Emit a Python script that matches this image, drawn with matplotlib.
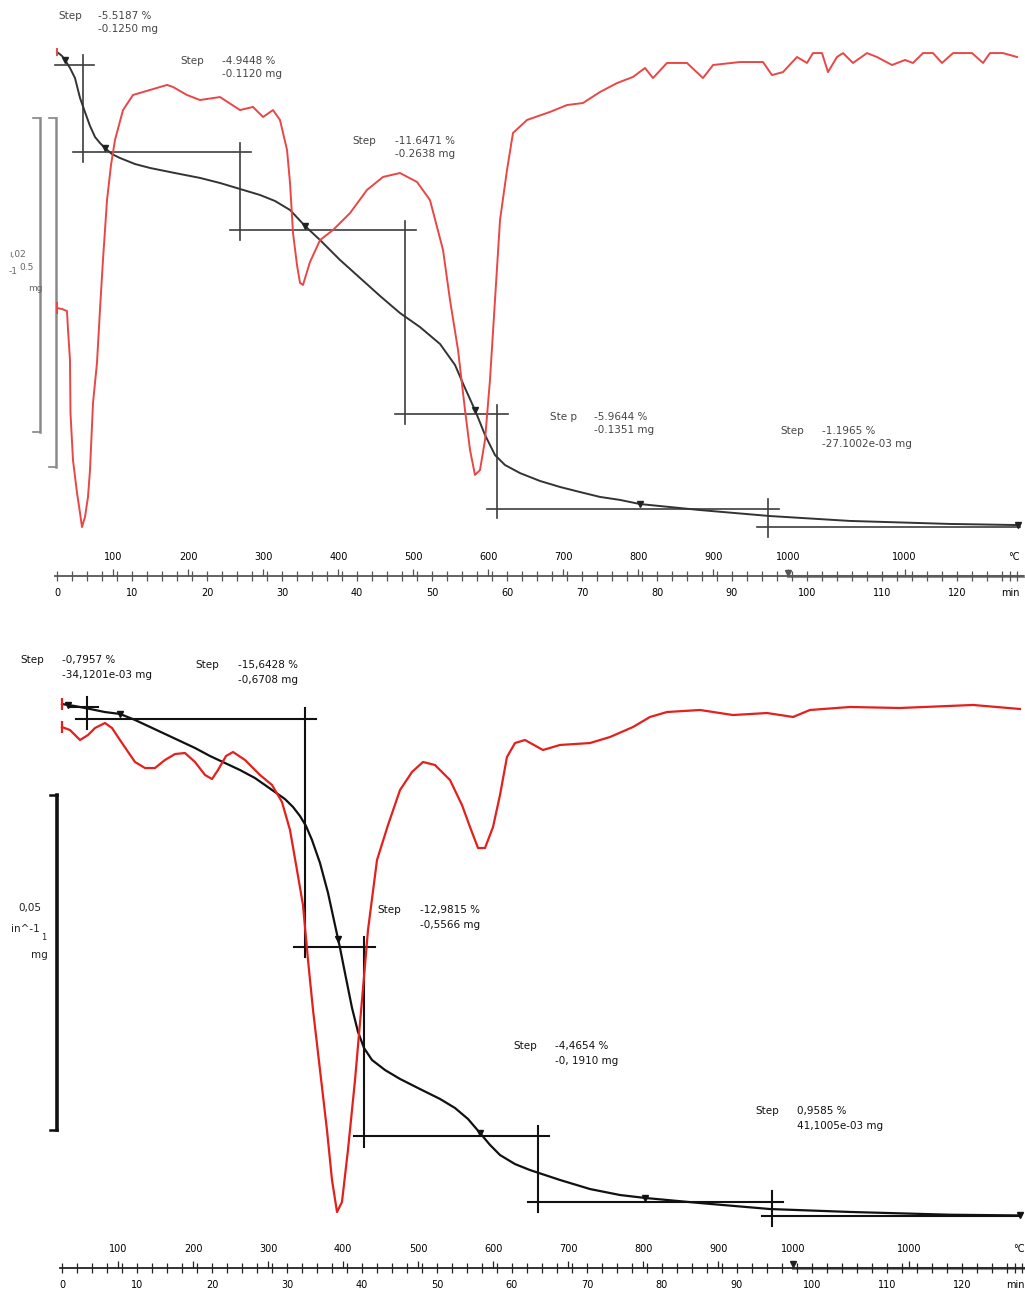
import numpy as np
import matplotlib
matplotlib.use("Agg")
import matplotlib.pyplot as plt

# ---------------- values ----------------
# time in min, TG in %, DTG in %/min

# top sample
top_tg_t = [0, 0.67, 1.07, 1.73, 2.4, 3.07, 3.73, 4.4, 5.07, 5.73, 6.4, 7.33, 8.4, 10.4, 12.4, 15.73,
            19.07, 21.73, 24.4, 27.07, 29.07, 31.07, 33.07, 35.07, 37.73, 40.4, 43.07, 45.73, 48.4,
            51.07, 53.07, 54.4, 55.73, 57.07, 58.4, 59.73, 61.73, 64.4, 67.07, 69.73, 72.4, 75.07,
            77.73, 81.73, 85.73, 95.07, 105.73, 119.07, 128.13]
top_tg = [100.19, 99.94, 99.68, 99.18, 98.54, 97.28, 96.39, 95.51, 94.81, 94.43, 94.11, 93.73, 93.48,
          93.10, 92.85, 92.53, 92.22, 91.90, 91.52, 91.14, 90.76, 90.19, 89.18, 88.29, 87.03, 85.89,
          84.75, 83.67, 82.78, 81.71, 80.38, 78.92, 77.53, 75.95, 74.68, 74.05, 73.54, 73.04, 72.66,
          72.34, 72.03, 71.84, 71.58, 71.39, 71.20, 70.82, 70.51, 70.32, 70.25]
top_dtg_t = [0, 0.67, 1.33, 1.47, 1.73, 1.8, 2.13, 2.67, 3.07, 3.33, 3.73, 4.13, 4.4, 4.8, 5.33, 5.73,
             6.13, 6.67, 7.2, 7.73, 8.8, 10.13, 12.4, 14.67, 15.47, 17.33, 19.07, 21.73, 24.4, 26.13,
             27.47, 28.8, 29.73, 30.67, 31.07, 31.47, 32.0, 32.4, 32.8, 33.73, 35.07, 36.8, 39.07, 41.33,
             43.47, 45.73, 48.0, 49.73, 51.47, 52.4, 53.47, 54.4, 55.07, 55.73, 56.4, 57.07, 57.73, 58.4,
             59.07, 60.0, 60.8, 62.67, 65.73, 68.0, 70.13, 72.4, 74.67, 76.8, 78.4, 79.47, 81.33, 84.0,
             86.13, 87.47, 91.07, 94.13, 95.33, 96.8, 98.67, 100.0, 100.8, 102.0, 102.8, 104.0, 104.8,
             106.13, 108.0, 109.33, 111.33, 113.07, 114.13, 115.47, 116.8, 118.0, 119.47, 122.0, 123.47,
             124.4, 126.13, 128.0]
top_dtg = [-1.599, -1.605, -1.618, -1.739, -1.930, -2.268, -2.567, -2.777, -2.904, -2.994, -2.930,
           -2.803, -2.631, -2.204, -1.949, -1.611, -1.293, -0.911, -0.688, -0.529, -0.338, -0.242,
           -0.210, -0.178, -0.191, -0.242, -0.274, -0.255, -0.338, -0.318, -0.382, -0.338, -0.401,
           -0.592, -0.803, -1.121, -1.325, -1.439, -1.452, -1.306, -1.166, -1.102, -0.994, -0.847,
           -0.764, -0.739, -0.796, -0.911, -1.229, -1.548, -1.866, -2.248, -2.503, -2.662, -2.631,
           -2.439, -2.057, -1.548, -1.038, -0.720, -0.484, -0.401, -0.350, -0.306, -0.293, -0.223,
           -0.166, -0.127, -0.070, -0.134, -0.038, -0.038, -0.134, -0.051, -0.032, -0.032, -0.115,
           -0.096, 0.0, -0.038, 0.025, 0.025, -0.096, 0.0, 0.025, -0.038, 0.025, 0.0, -0.051, -0.019,
           -0.038, 0.025, 0.025, -0.038, 0.025, 0.025, -0.038, 0.025, 0.025, 0.0]
top_start = 99.37
top_steps = [-5.5187, -4.9448, -11.6471, -5.9644, -1.1965]
top_bounds = [3.47, 24.4, 46.4, 58.67, 94.8]
top_marks = [1.07, 6.4, 33.07, 55.73, 77.73, 128.1]
top_pct = ['-5.5187 %', '-4.9448 %', '-11.6471 %', '-5.9644 %', '-1.1965 %']
top_mg = ['-0.1250 mg', '-0.1120 mg', '-0.2638 mg', '-0.1351 mg', '-27.1002e-03 mg']
top_step_word = ['Step', 'Step', 'Step', 'Ste p', 'Step']

# bottom sample
bot_tg_t = [0, 1.73, 3.73, 5.73, 7.73, 9.73, 11.73, 13.73, 15.73, 17.73, 19.73, 21.73, 23.73, 25.73,
            27.07, 28.4, 29.73, 30.8, 31.73, 32.53, 33.33, 34.4, 35.47, 36.4, 37.07, 37.73, 38.67,
            39.47, 40.27, 41.33, 43.07, 45.07, 47.73, 50.4, 52.4, 54.13, 55.73, 57.07, 58.4, 60.4,
            62.4, 66.4, 70.4, 74.4, 77.73, 85.07, 94.4, 105.07, 118.4, 127.73]
bot_tg = [99.93, 99.79, 99.59, 99.38, 99.25, 98.84, 98.36, 97.88, 97.40, 96.92, 96.37, 95.89, 95.41,
          94.86, 94.38, 93.90, 93.42, 92.88, 92.26, 91.58, 90.62, 89.04, 86.99, 84.79, 83.22, 81.51,
          79.11, 77.47, 76.37, 75.55, 74.86, 74.25, 73.56, 72.88, 72.26, 71.51, 70.55, 69.73, 69.04,
          68.42, 68.01, 67.33, 66.71, 66.30, 66.10, 65.75, 65.34, 65.14, 64.95, 64.90]
bot_dtg_t = [0, 1.07, 2.4, 3.47, 4.4, 5.73, 6.67, 7.73, 9.73, 11.07, 12.4, 13.73, 15.07, 16.4, 17.73,
             19.07, 20.0, 20.8, 21.87, 22.8, 24.4, 26.4, 28.0, 29.33, 30.4, 31.33, 32.13, 32.8, 33.47,
             34.4, 35.33, 36.0, 36.67, 37.33, 38.13, 39.07, 40.0, 40.8, 42.0, 43.47, 45.07, 46.67, 48.13,
             49.73, 51.73, 53.33, 54.4, 55.47, 56.4, 57.47, 58.4, 59.33, 60.4, 61.73, 64.13, 66.4, 70.4,
             73.07, 76.13, 78.4, 80.67, 85.07, 89.47, 94.0, 97.47, 99.73, 105.07, 111.73, 121.47, 127.73]
bot_dtg = [-0.254, -0.299, -0.448, -0.373, -0.269, -0.194, -0.269, -0.448, -0.776, -0.866, -0.866,
           -0.746, -0.657, -0.642, -0.776, -0.970, -1.030, -0.896, -0.687, -0.627, -0.746, -0.970,
           -1.119, -1.373, -1.791, -2.388, -2.910, -3.731, -4.478, -5.373, -6.269, -7.015, -7.493,
           -7.343, -6.567, -5.522, -4.328, -3.284, -2.239, -1.716, -1.194, -0.925, -0.776, -0.821,
           -1.045, -1.418, -1.746, -2.060, -2.060, -1.746, -1.269, -0.701, -0.493, -0.448, -0.597,
           -0.522, -0.493, -0.403, -0.254, -0.104, -0.030, 0.0, -0.075, -0.045, -0.104, 0.0, 0.045,
           0.030, 0.075, 0.015]
bot_start = 99.73
bot_steps = [-0.7957, -15.6428, -12.9815, -4.4654, -0.9585]
bot_bounds = [3.33, 32.4, 40.27, 63.47, 94.67]
bot_marks = [0.8, 7.73, 36.8, 55.73, 77.73, 127.7]
bot_pct = ['-0,7957 %', '-15,6428 %', '-12,9815 %', '-4,4654 %', '0,9585 %']
bot_mg = ['-34,1201e-03 mg', '-0,6708 mg', '-0,5566 mg', '-0, 1910 mg', '41,1005e-03 mg']

# time / temperature ruler
heat_start = 25.0   # degC at t = 0
heat_rate = 10.0    # K/min
temp_ticks = [100, 200, 300, 400, 500, 600, 700, 800, 900, 1000]
iso_label_t = [113.0, 127.6]
temp_labels = ['100', '200', '300', '400', '500', '600', '700', '800', '900', '1000', '1000', '°C']
min_ticks = [0, 10, 20, 30, 40, 50, 60, 70, 80, 90, 100, 110, 120, 127.1]
min_labels = ['0', '10', '20', '30', '40', '50', '60', '70', '80', '90', '100', '110', '120', 'min']

W, H = 1025, 1294
PX_MIN = 7.5
RED_TOP = '#ea4646'
RED_BOT = '#e3201c'

fig = plt.figure(figsize=(W / 100, H / 100), dpi=100)


def px_text(x, y, s, **kw):
    fig.text(x / W, 1 - y / H, s, va='top', ha='left', **kw)


def panel(row_top, row_axis, x0, tg_ref, dtg_ref, col, fs):
    ax = fig.add_axes([0, 1 - row_axis / H, 1, (row_axis - row_top) / H])
    ax.set_xlim(-x0 / PX_MIN, (W - x0) / PX_MIN)
    r, v, k = tg_ref
    ax.set_ylim(v - (row_axis - r) / k, v + (r - row_top) / k)
    ax2 = ax.twinx()
    r, v, k = dtg_ref
    ax2.set_ylim(v - (row_axis - r) / k, v + (r - row_top) / k)
    for a in (ax, ax2):
        for s in ('top', 'left', 'right'):
            a.spines[s].set_visible(False)
        a.set_yticks([])
    ax2.spines['bottom'].set_visible(False)

    # time ruler (min) on the bottom spine
    ax.spines['bottom'].set_bounds(-0.3, 128.8)
    ax.spines['bottom'].set_color(col)
    ax.spines['bottom'].set_linewidth(1.3)
    ax.set_xticks(min_ticks, min_labels)
    ax.set_xticks(np.arange(0, 129, 2), minor=True)
    ax.tick_params(axis='x', which='both', direction='inout', length=7, width=0.9,
                   color=col, labelsize=fs, pad=5.5)

    # temperature labels above the ruler
    t_temp = [(T - heat_start) / heat_rate for T in temp_ticks]
    sec = ax.secondary_xaxis(0.0)
    sec.set_alignment('top')
    sec.set_xticks(t_temp + iso_label_t, temp_labels)
    sec.tick_params(direction='out', length=5, width=0.9, color=col, labelsize=fs, pad=5)
    for s in sec.spines.values():
        s.set_visible(False)
    sec.xaxis.get_major_ticks()[-1].tick2line.set_visible(False)

    # isothermal part drawn heavier, mark at 1000 degC
    tr = ax.get_xaxis_transform()
    ax.plot([t_temp[-1], 128.8], [0, 0], transform=tr, color='#8c8c8c', lw=2.2,
            clip_on=False, zorder=1)
    ax.plot([t_temp[-1]], [0.006], transform=tr, marker='v', ms=4, color=col, clip_on=False)
    return ax, ax2


def steps(ax, start, dsteps, bounds, t_first, t_last, over, col, lw):
    levels = start + np.concatenate([[0], np.cumsum(dsteps)])
    left = [t_first] + [b - 1.4 for b in bounds]
    right = [b + 1.5 for b in bounds] + [t_last]
    for lv, a, b in zip(levels, left, right):
        ax.plot([a, b], [lv, lv], color=col, lw=lw, zorder=3)
    for i, b in enumerate(bounds):
        ax.plot([b, b], [levels[i] + over, levels[i + 1] - over], color=col, lw=lw, zorder=3)


def scale_bar(ax, x_px, y0, length, col, lw, cap_px=7):
    tr = ax.get_yaxis_transform()
    x = x_px / W
    c = cap_px / W
    ax.plot([x, x], [y0, y0 - length], transform=tr, color=col, lw=lw, clip_on=False)
    for yy in (y0, y0 - length):
        ax.plot([x - c, x], [yy, yy], transform=tr, color=col, lw=lw * 0.7, clip_on=False)


# ---------------- top thermogram ----------------
ax, ax2 = panel(0, 576, 57, (55, 100.0, 15.8), (57, 0.0, 157.0), '#555555', 7)
ax2.plot(top_dtg_t, top_dtg, color=RED_TOP, lw=1.4, zorder=2)
ax2.plot(top_dtg_t[0], top_dtg[0], marker='|', ms=8, mew=1.4, color=RED_TOP)
ax.plot(top_tg_t, top_tg, color='#333333', lw=1.4, zorder=4)
ax.plot(top_tg_t[0], top_tg[0], marker='|', ms=6, mew=1.4, color=RED_TOP, zorder=5)
steps(ax, top_start, top_steps, top_bounds, -0.3, 128.4, 0.6, '#3d3d3d', 1.2)
ax.plot(top_marks, np.interp(top_marks, top_tg_t, top_tg), 'v', ms=4, color='#222222', zorder=5)

top_sample_mg = 0.1250 / 0.055187
scale_bar(ax2, 40, -0.39, 2.0, '#8a8a8a', 1.8)
scale_bar(ax, 56, 96.0, 0.5 / top_sample_mg * 100, '#8a8a8a', 1.8)
px_text(9, 250, 'ı,02', fontsize=6.5, color='#666666')
px_text(9, 267, '-1', fontsize=6.5, color='#666666')
px_text(19, 263, '0.5', fontsize=6.5, color='#666666')
px_text(28, 284, 'mg', fontsize=6.5, color='#666666')

top_txt = [(58, 98, 11), (180, 222, 56), (352, 395, 136), (550, 594, 412), (780, 822, 426)]
for (xs, xv, yt), w, p, m in zip(top_txt, top_step_word, top_pct, top_mg):
    px_text(xs, yt, w, fontsize=7.5, color='#454545')
    px_text(xv, yt, p + '\n' + m, fontsize=7.5, color='#454545', linespacing=1.35)

# ---------------- bottom thermogram ----------------
bx, bx2 = panel(640, 1268, 62, (703, 100.0, 14.6), (710, 0.0, 67.0), '#222222', 7)
bx2.plot(bot_dtg_t, bot_dtg, color=RED_BOT, lw=1.6, zorder=2)
bx2.plot(bot_dtg_t[0], bot_dtg[0], marker='|', ms=8, mew=1.6, color=RED_BOT)
bx.plot(bot_tg_t, bot_tg, color='#111111', lw=1.6, zorder=4)
bx.plot(bot_tg_t[0], bot_tg[0], marker='|', ms=8, mew=1.6, color=RED_BOT, zorder=5)
steps(bx, bot_start, bot_steps, bot_bounds, 1.0, 127.7, 0.7, '#111111', 1.5)
bx.plot(bot_marks, np.interp(bot_marks, bot_tg_t, bot_tg), 'v', ms=4, color='#111111', zorder=5)

scale_bar(bx2, 57, -1.27, 5.0, '#111111', 2.6)
px_text(18, 903, '0,05', fontsize=7.5, color='#222222')
px_text(11, 924, 'in^-1', fontsize=7.5, color='#222222')
px_text(41, 933, '1', fontsize=6, color='#222222')
px_text(31, 950, 'mg', fontsize=7.5, color='#222222')

bot_txt = [(20, 62, 655), (195, 238, 660), (377, 420, 905), (513, 555, 1041), (755, 797, 1106)]
for (xs, xv, yt), p, m in zip(bot_txt, bot_pct, bot_mg):
    px_text(xs, yt, 'Step', fontsize=7.5, color='#111111')
    px_text(xv, yt, p + '\n' + m, fontsize=7.5, color='#111111', linespacing=1.6)

fig.savefig('out.png', dpi=100)
